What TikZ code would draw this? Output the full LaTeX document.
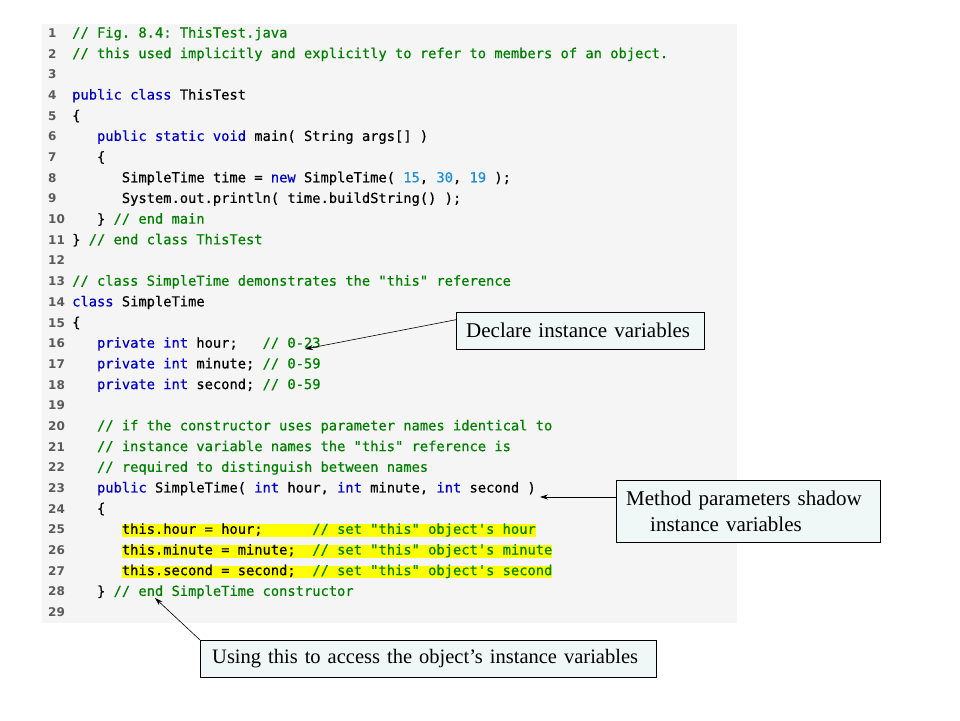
\documentclass[tikz,border=0pt]{standalone}
\usepackage{fontspec}
\setmainfont{Liberation Serif}
\setsansfont{DejaVu Sans}
\setmonofont{DejaVu Sans Mono}
\newfontfamily\codefont[FakeBold=0.5]{DejaVu Sans Mono}
\usetikzlibrary{arrows.meta}
\definecolor{panelgray}{RGB}{245,245,245}
\definecolor{kwblue}{RGB}{0,0,200}
\definecolor{cmgreen}{RGB}{0,128,0}
\definecolor{litblue}{RGB}{30,144,215}
\definecolor{lngray}{RGB}{90,90,90}
\definecolor{hlyellow}{RGB}{255,255,0}
\definecolor{notefill}{RGB}{240,247,247}
\newcommand{\kw}[1]{\textcolor{kwblue}{#1}}
\newcommand{\cmt}[1]{\textcolor{cmgreen}{#1}}
\newcommand{\lit}[1]{\textcolor{litblue}{#1}}
\begin{document}
\begin{tikzpicture}[x=1pt,y=-1pt,
  code/.style={anchor=base west,inner sep=0pt,font=\fontsize{13.75}{16}\codefont\frenchspacing},
  lnum/.style={anchor=base west,inner sep=0pt,text=lngray,font=\fontsize{12}{14}\sffamily\bfseries},
  hl/.style={fill=hlyellow,text height=9.5pt,text depth=3pt},
  note/.style={draw=black,fill=notefill,anchor=north west,inner xsep=10pt,inner ysep=0pt,
    font=\fontsize{21}{26}\selectfont,align=left},
  callarrow/.style={-{Stealth[length=8pt,width=5pt]},line width=0.6pt}]
\useasboundingbox (0,0) rectangle (960,720);

% Code listing panel
\fill[panelgray] (42,24) rectangle (737,623);
\foreach \n in {1,...,29}
  \node[lnum] (n\n) at (48,{37.5+(\n-1)*20.68}) {\n};

% Class ThisTest
\node[code] (c1) at (72,37.5) {\cmt{// Fig. 8.4: ThisTest.java}};
\node[code] (c2) at (72,58.18) {\cmt{// this used implicitly and explicitly to refer to members of an object.}};
\node[code] (c4) at (72,99.54) {\kw{public class} ThisTest};
\node[code] (c5) at (72,120.22) {\{};
\node[code] (c6) at (96.84,140.9) {\kw{public static void} main( String args[] )};
\node[code] (c7) at (96.84,161.58) {\{};
\node[code] (c8) at (121.68,182.26) {SimpleTime time = \kw{new} SimpleTime( \lit{15}, \lit{30}, \lit{19} );};
\node[code] (c9) at (121.68,202.94) {System.out.println( time.buildString() );};
\node[code] (c10) at (96.84,223.62) {\} \cmt{// end main}};
\node[code] (c11) at (72,244.3) {\} \cmt{// end class ThisTest}};

% Class SimpleTime
\node[code] (c13) at (72,285.66) {\cmt{// class SimpleTime demonstrates the "this" reference}};
\node[code] (c14) at (72,306.34) {\kw{class} SimpleTime};
\node[code] (c15) at (72,327.02) {\{};
\node[code] (c16) at (96.84,347.7) {\kw{private int} hour;~~~\cmt{// 0-23}};
\node[code] (c17) at (96.84,368.38) {\kw{private int} minute; \cmt{// 0-59}};
\node[code] (c18) at (96.84,389.06) {\kw{private int} second; \cmt{// 0-59}};
\node[code] (c20) at (96.84,430.42) {\cmt{// if the constructor uses parameter names identical to}};
\node[code] (c21) at (96.84,451.1) {\cmt{// instance variable names the "this" reference is}};
\node[code] (c22) at (96.84,471.78) {\cmt{// required to distinguish between names}};
\node[code] (c23) at (96.84,492.46) {\kw{public} SimpleTime( \kw{int} hour, \kw{int} minute, \kw{int} second )};
\node[code] (c24) at (96.84,513.14) {\{};
\node[code,hl] (c25) at (121.68,533.82) {this.hour = hour;~~~~~~\cmt{// set "this" object's hour}};
\node[code,hl] (c26) at (121.68,554.5) {this.minute = minute;~~\cmt{// set "this" object's minute}};
\node[code,hl] (c27) at (121.68,575.18) {this.second = second;~~\cmt{// set "this" object's second}};
\node[code] (c28) at (96.84,595.86) {\} \cmt{// end SimpleTime constructor}};

% Callouts
\node[note,text width=228pt,minimum height=37pt] (declare) at (456,312) {Declare instance variables};
\node[note,text width=244pt,minimum height=62pt] (method) at (616,480)
  {Method parameters shadow\\\hspace*{24pt}instance variables};
\node[note,text width=436pt,minimum height=37pt] (usingnote) at (200,640)
  {\fontsize{20.5}{26}\selectfont\hspace*{2pt}Using this to access the object’s instance variables};

\coordinate (hourtip) at (305,349);
\coordinate (paramtip) at (540,497);
\coordinate (thistip) at (155,598);
\draw[callarrow] ([yshift=11pt]declare.west) -- (hourtip);
\draw[callarrow] (method.west |- paramtip) -- (paramtip);
\draw[callarrow] (usingnote.north west) -- (thistip);

\end{tikzpicture}
\end{document}
